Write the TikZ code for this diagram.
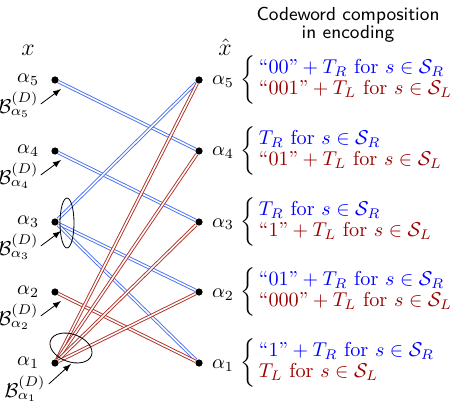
\documentclass[tikz,border=0pt]{standalone}
\usepackage{amsmath}
\usepackage{amssymb}
\usepackage{fontspec}
\usepackage{tikz}
\usetikzlibrary{calc, arrows, positioning}
\definecolor{linkblue}{RGB}{70,110,245}
\definecolor{linkred}{RGB}{175,45,35}
\colorlet{txtred}{red!60!black}
\tikzset{dot/.style={circle, fill=black, inner sep=0pt, minimum size=3.6pt}}
\tikzset{bluelink/.style={draw=linkblue, double=white, line width=0.45pt, double distance=0.8pt}}
\tikzset{redlink/.style={bluelink, draw=linkred}}
\tikzset{pointer/.style={-latex, thin, shorten >=0pt}}
\tikzset{group/.style={inner sep=0pt}}
\tikzset{symb/.style={inner sep=0.5pt}}
\tikzset{code/.style={font=\fontsize{10.1}{12}\selectfont}}
\newcommand{\codeword}[3]{$\alpha_{#1}\,\renewcommand{\arraystretch}{0.87}%
  \left\{\begin{array}{@{\,}l@{}}\color{blue}#2\\ \color{txtred}#3\end{array}\right.$}

\begin{document}
\begin{tikzpicture}[x=0.5pt, y=0.5pt]
        \useasboundingbox (0,0) rectangle (458,401);
        % Title and axis labels
        \node[font=\sffamily\fontsize{9.4}{9}\selectfont, align=center] (title) at (348,376) {Codeword composition\\in encoding};
        \node (xin) at (28,351) {\large$x$};
        \node (xout) at (225,354) {\large$\hat{x}$};
        % Symbols on both sides
        \foreach \i/\y in {1/38,2/109,3/179,4/250,5/321} {
          \node[dot] (L\i) at (55,\y) {};
          \node[dot] (R\i) at (199,\y) {};
          \node[symb, left=5.3pt of L\i] (in\i) {$\alpha_\i$};
        }
        % Codewords
        \node[code, right=1pt of R5] (cw5) {\codeword{5}{\text{``00''}+T_R\text{ for }s\in\mathcal{S}_R}{\text{``001''}+T_L\text{ for }s\in\mathcal{S}_L}};
        \node[code, right=1pt of R4] (cw4) {\codeword{4}{T_R\text{ for }s\in\mathcal{S}_R}{\text{``01''}+T_L\text{ for }s\in\mathcal{S}_L}};
        \node[code, right=1pt of R3] (cw3) {\codeword{3}{T_R\text{ for }s\in\mathcal{S}_R}{\text{``1''}+T_L\text{ for }s\in\mathcal{S}_L}};
        \node[code, right=1pt of R2] (cw2) {\codeword{2}{\text{``01''}+T_R\text{ for }s\in\mathcal{S}_R}{\text{``000''}+T_L\text{ for }s\in\mathcal{S}_L}};
        \node[code, right=1pt of R1] (cw1) {\codeword{1}{\text{``1''}+T_R\text{ for }s\in\mathcal{S}_R}{T_L\text{ for }s\in\mathcal{S}_L}};
        % Transitions
        \foreach \a/\b in {5/4, 4/3, 3/5, 3/2, 3/1} {
          \draw[bluelink] (L\a) -- (R\b);
        }
        \foreach \a/\b in {2/1, 1/5, 1/4, 1/3, 1/2} {
          \draw[redlink] (L\a) -- (R\b);
        }
        % Groups of outgoing transitions
        \draw (67,178) ellipse [x radius=3.5pt, y radius=12.5pt];
        \draw[rotate around={-20:(71,53)}] (71,53) ellipse [x radius=10.9pt, y radius=6.9pt];
        % Pointers to the groups
        \foreach \i/\y in {2/109,3/179,4/250,5/321} {
          \node[group] (B\i) at (18,\y-25) {$\mathcal{B}^{(D)}_{\alpha_\i}$};
          \coordinate (tip\i) at ($(L\i)+(6,-9)$);
          \draw[pointer] ($(B\i.east)+(2,1)$) -- (tip\i);
        }
        \node[group] (B1) at (25,12) {$\mathcal{B}^{(D)}_{\alpha_1}$};
        \coordinate (tip1) at ($(L1)+(16,-1)$);
        \draw[pointer] ($(B1.east)+(3,5)$) -- (tip1);
\end{tikzpicture}
\end{document}
